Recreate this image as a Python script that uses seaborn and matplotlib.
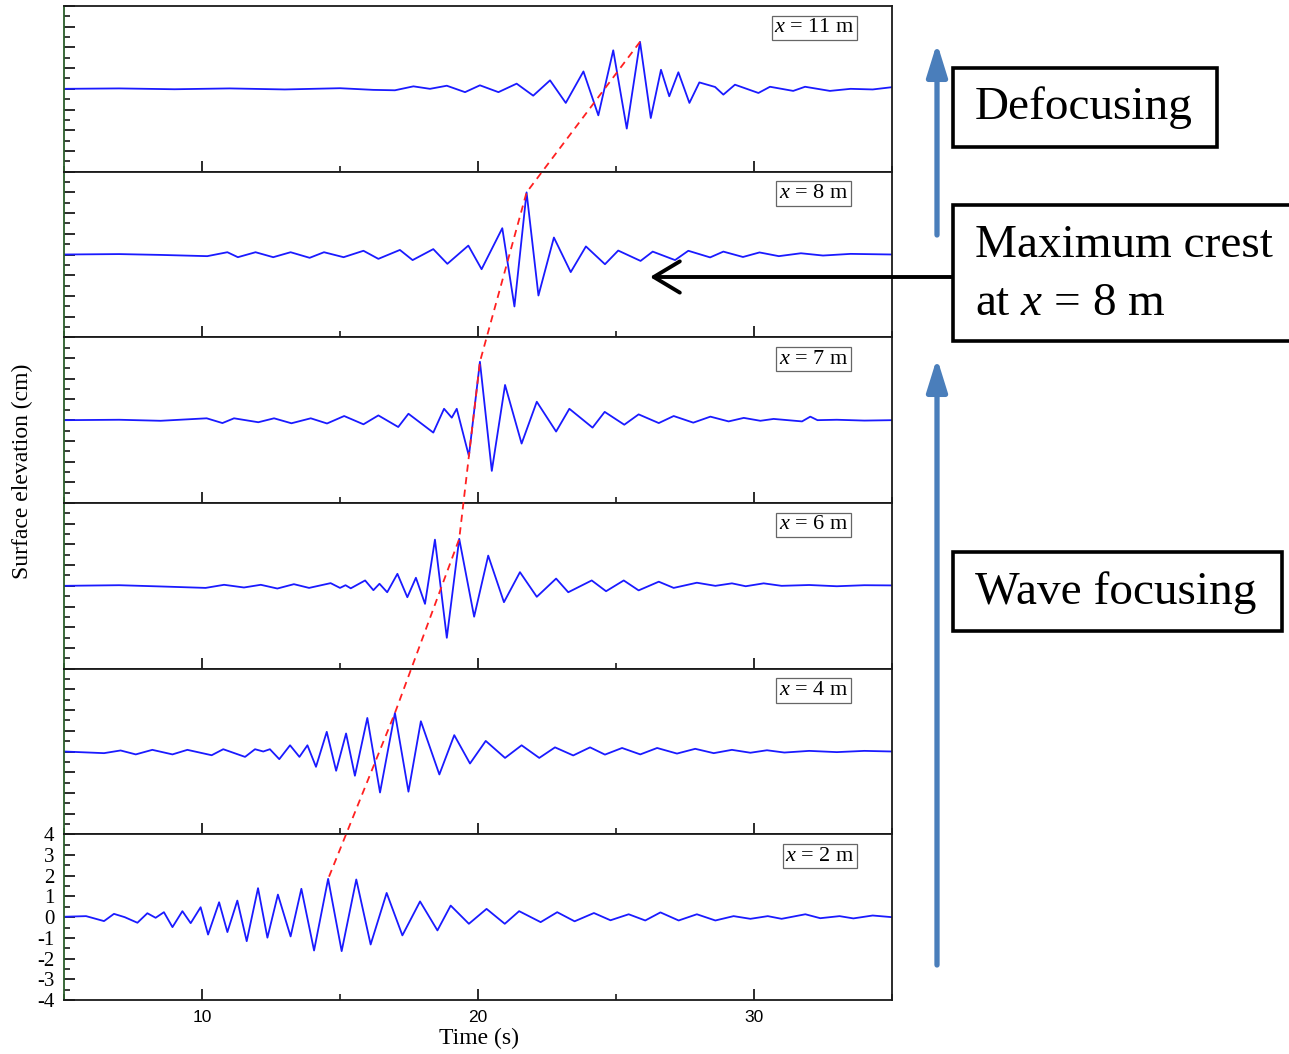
import numpy as np
import pandas as pd
import matplotlib
matplotlib.use("Agg")
import matplotlib.pyplot as plt
import seaborn as sns
from matplotlib.patches import Rectangle, FancyArrowPatch
from matplotlib.lines import Line2D
from matplotlib.ticker import MultipleLocator, FixedLocator

# ---------------- data ----------------
locations = ["x = 11 m", "x = 8 m", "x = 7 m", "x = 6 m", "x = 4 m", "x = 2 m"]

t_11 = [5.0, 7.0, 9.0, 11.0, 13.0, 15.0, 16.2, 16.99, 17.66, 18.26, 18.87, 19.53, 20.07, 20.74,
        21.40, 22.00, 22.61, 23.18, 23.82, 24.36, 24.90, 25.39, 25.87, 26.26, 26.63, 26.93, 27.26,
        27.66, 28.02, 28.59, 28.89, 29.31, 30.16, 30.58, 31.42, 31.85, 32.75, 33.5, 34.3, 35.0]
eta_11 = [0.0, 0.02, -0.02, 0.02, -0.03, 0.03, -0.05, -0.07, 0.12, 0.0, 0.15, -0.16, 0.17, -0.16,
          0.25, -0.33, 0.41, -0.68, 0.84, -1.28, 1.86, -1.92, 2.27, -1.41, 0.92, -0.36, 0.80,
          -0.68, 0.31, 0.09, -0.28, 0.20, -0.20, 0.10, -0.10, 0.10, -0.10, 0.0, -0.03, 0.08]

t_8 = [5.0, 7.0, 8.5, 10.19, 10.92, 11.30, 11.94, 12.58, 13.21, 13.90, 14.42, 15.13, 15.85, 16.39,
       17.17, 17.63, 18.38, 18.89, 19.65, 20.13, 20.88, 21.32, 21.76, 22.19, 22.75, 23.36, 23.91,
       24.60, 25.08, 25.89, 26.33, 27.14, 27.62, 28.41, 28.89, 29.6, 30.2, 30.9, 31.7, 32.5, 33.5, 35.0]
eta_8 = [0.0, 0.02, -0.02, -0.08, 0.11, -0.13, 0.11, -0.13, 0.11, -0.16, 0.11, -0.13, 0.18, -0.21,
         0.22, -0.27, 0.26, -0.45, 0.43, -0.71, 1.27, -2.51, 3.00, -1.98, 0.82, -0.85, 0.39,
         -0.47, 0.19, -0.31, 0.14, -0.27, 0.18, -0.14, 0.14, -0.12, 0.10, -0.08, 0.06, -0.05, 0.03, 0.0]

t_7 = [5.0, 7.0, 8.5, 10.17, 10.74, 11.16, 12.04, 12.61, 13.24, 13.94, 14.53, 15.15, 15.85, 16.39,
       17.11, 17.48, 18.38, 18.77, 19.05, 19.23, 19.67, 20.07, 20.50, 20.98, 21.58, 22.13, 22.83,
       23.31, 24.15, 24.59, 25.3, 25.82, 26.55, 27.09, 27.8, 28.42, 29.08, 29.63, 30.23, 30.71,
       31.74, 32.04, 32.3, 33.0, 34.0, 35.0]
eta_7 = [0.0, 0.02, -0.03, 0.09, -0.14, 0.09, -0.10, 0.09, -0.15, 0.09, -0.16, 0.20, -0.20, 0.23,
         -0.33, 0.31, -0.60, 0.55, 0.12, 0.55, -1.73, 2.82, -2.45, 1.70, -1.13, 0.89, -0.55,
         0.55, -0.36, 0.40, -0.22, 0.28, -0.14, 0.20, -0.12, 0.17, -0.06, 0.11, -0.03, 0.06,
         -0.06, 0.17, 0.0, 0.02, -0.02, 0.0]

t_6 = [5.0, 7.0, 8.5, 10.13, 10.80, 11.52, 12.13, 12.73, 13.33, 13.88, 14.66, 15.0, 15.2, 15.39,
       15.91, 16.21, 16.43, 16.71, 17.08, 17.44, 17.75, 18.08, 18.44, 18.87, 19.32, 19.86, 20.37,
       20.94, 21.52, 22.13, 22.83, 23.27, 24.12, 24.64, 25.28, 25.82, 26.55, 27.09, 27.93, 28.6,
       29.2, 29.7, 30.35, 31.0, 32.0, 33.0, 34.0, 35.0]
eta_6 = [0.0, 0.03, -0.03, -0.10, 0.05, -0.08, 0.05, -0.13, 0.08, -0.10, 0.13, -0.10, 0.03, -0.12,
         0.26, -0.21, 0.10, -0.31, 0.58, -0.55, 0.39, -0.87, 2.23, -2.51, 2.27, -1.49, 1.46,
         -0.79, 0.66, -0.53, 0.35, -0.31, 0.26, -0.26, 0.26, -0.22, 0.20, -0.10, 0.15, 0.0,
         0.12, -0.02, 0.12, 0.0, 0.04, -0.02, 0.03, 0.02]

t_4 = [5.0, 6.45, 7.05, 7.6, 8.2, 8.93, 9.47, 10.35, 10.77, 11.56, 11.92, 12.22, 12.46, 12.80,
       13.19, 13.53, 13.82, 14.13, 14.52, 14.86, 15.22, 15.54, 15.99, 16.45, 16.99, 17.48, 17.93,
       18.60, 19.14, 19.71, 20.28, 20.98, 21.58, 22.22, 22.79, 23.45, 24.06, 24.6, 25.22, 25.88,
       26.49, 27.21, 27.87, 28.54, 29.2, 29.87, 30.47, 31.1, 32.0, 33.0, 34.0, 35.0]
eta_4 = [0.0, -0.08, 0.05, -0.14, 0.08, -0.14, 0.08, -0.18, 0.11, -0.26, 0.11, 0.0, 0.11, -0.37,
         0.30, -0.26, 0.30, -0.74, 0.95, -0.93, 0.87, -1.17, 1.62, -1.98, 1.86, -1.94, 1.46,
         -1.11, 0.79, -0.58, 0.51, -0.31, 0.30, -0.31, 0.20, -0.19, 0.20, -0.15, 0.17, -0.14,
         0.17, -0.10, 0.13, -0.08, 0.08, -0.06, 0.06, -0.05, 0.03, -0.03, 0.03, 0.0]

t_2 = [5.0, 5.8, 6.45, 6.81, 7.2, 7.66, 8.02, 8.32, 8.62, 8.93, 9.29, 9.59, 9.95, 10.22, 10.62,
       10.92, 11.28, 11.62, 12.03, 12.37, 12.75, 13.21, 13.60, 14.06, 14.57, 15.06, 15.59, 16.11,
       16.69, 17.26, 17.90, 18.53, 19.01, 19.67, 20.31, 20.97, 21.49, 22.27, 22.87, 23.5, 24.2,
       24.8, 25.46, 26.06, 26.61, 27.27, 27.93, 28.6, 29.26, 29.87, 30.5, 31.0, 31.86, 32.4,
       33.1, 33.6, 34.3, 35.0]
eta_2 = [0.02, 0.05, -0.19, 0.16, 0.0, -0.27, 0.19, -0.03, 0.24, -0.48, 0.29, -0.29, 0.48, -0.84,
         0.72, -0.72, 0.80, -1.16, 1.40, -0.99, 1.09, -0.93, 1.37, -1.61, 1.85, -1.64, 1.82,
         -1.32, 1.17, -0.88, 0.76, -0.64, 0.56, -0.32, 0.40, -0.32, 0.29, -0.24, 0.24, -0.2,
         0.2, -0.15, 0.14, -0.16, 0.23, -0.16, 0.14, -0.16, 0.05, -0.08, 0.05, -0.08, 0.14,
         -0.05, 0.05, -0.06, 0.08, 0.0]

series = {
    "x = 11 m": (t_11, eta_11),
    "x = 8 m": (t_8, eta_8),
    "x = 7 m": (t_7, eta_7),
    "x = 6 m": (t_6, eta_6),
    "x = 4 m": (t_4, eta_4),
    "x = 2 m": (t_2, eta_2),
}
label_text = {
    "x = 11 m": r"$x$ = 11 m",
    "x = 8 m": r"$x$ = 8 m",
    "x = 7 m": r"$x$ = 7 m",
    "x = 6 m": r"$x$ = 6 m",
    "x = 4 m": r"$x$ = 4 m",
    "x = 2 m": r"$x$ = 2 m",
}
y_ticks = [-4, -3, -2, -1, 0, 1, 2, 3, 4]
x_ticks = [10, 20, 30]

frames = []
for loc in locations:
    tt, ee = series[loc]
    frames.append(pd.DataFrame({"t": tt, "eta": ee, "loc": loc}))
df = pd.concat(frames, ignore_index=True)

# ---------------- style ----------------
sns.set_theme(style="white")
plt.rcParams["font.family"] = ["Liberation Serif", "DejaVu Serif"]
plt.rcParams["mathtext.fontset"] = "custom"
plt.rcParams["mathtext.rm"] = "Liberation Serif"
plt.rcParams["mathtext.it"] = "Liberation Serif:italic"
for key in ["text.color", "axes.labelcolor", "xtick.color", "ytick.color"]:
    plt.rcParams[key] = "black"

W, H = 1289, 1054
fig = plt.figure(figsize=(W / 100, H / 100), dpi=100, facecolor="white")
axes = fig.subplots(6, 1, sharex=True, gridspec_kw=dict(hspace=0))
fig.subplots_adjust(left=64 / W, right=892 / W, bottom=1 - 1000 / H, top=1 - 6 / H)

label_right = [0.955, 0.947, 0.947, 0.947, 0.947, 0.955]

for i, (ax, loc) in enumerate(zip(axes, locations)):
    sub = df[df["loc"] == loc]
    sns.lineplot(data=sub, x="t", y="eta", ax=ax, color="#1a1aff", lw=1.3,
                 estimator=None, sort=True, solid_joinstyle="round")
    ax.set_xlim(5, 35)
    ax.set_ylim(-4, 4)
    ax.set_xlabel("")
    ax.set_ylabel("")
    ax.set_facecolor("white")
    ax.xaxis.set_major_locator(FixedLocator(x_ticks))
    ax.xaxis.set_minor_locator(MultipleLocator(5))
    ax.yaxis.set_major_locator(FixedLocator(y_ticks))
    ax.yaxis.set_minor_locator(MultipleLocator(0.5))
    ax.tick_params(axis="both", which="major", direction="in", length=8, width=1.3,
                   bottom=True, left=True, top=False, right=False, pad=7,
                   color="#1a1a1a")
    ax.tick_params(axis="both", which="minor", direction="in", length=4, width=1.2,
                   bottom=True, left=True, top=False, right=False, color="#1a1a1a")
    for s in ax.spines.values():
        s.set_color("#1a1a1a")
        s.set_linewidth(1.3)
    ax.spines["left"].set_color("#2b5e2b")
    if i < 5:
        ax.tick_params(axis="both", which="both", labelleft=False, labelbottom=False)
    else:
        ax.set_yticks(y_ticks)
        ax.set_yticklabels([str(v) for v in y_ticks], fontsize=15)
        ax.set_xticks(x_ticks)
        ax.set_xticklabels([str(v) for v in x_ticks], fontsize=12.5,
                           family=["Liberation Sans", "DejaVu Sans"])
    ax.text(label_right[i], 0.925, label_text[loc], transform=ax.transAxes, ha="right",
            va="top", fontsize=16, color="black",
            bbox=dict(boxstyle="square,pad=0.12", fc="white", ec="#666666", lw=0.9))

fig.text(22 / W, 1 - 471 / H, "Surface elevation (cm)", rotation=90, ha="center",
         va="center", fontsize=17)
fig.text(479 / W, 1 - 1038 / H, "Time (s)", ha="center", va="center", fontsize=17)

# ---------------- red dashed line through maximum crests ----------------
fig.canvas.draw()
inv = fig.transFigure.inverted()
pts = []
for ax, loc in zip(axes, locations):
    tt, ee = series[loc]
    k = int(np.argmax(ee))
    pts.append(inv.transform(ax.transData.transform((tt[k], ee[k]))))
pts = np.array(pts)
fig.add_artist(Line2D(pts[:, 0], pts[:, 1], transform=fig.transFigure, color="#ff2020",
                      lw=1.3, ls=(0, (4, 3)), zorder=10))

# ---------------- right-hand annotations ----------------
def fx(px):
    return px / W


def fy(py):
    return 1 - py / H


blue = "#4a7ebb"
for y0, y1 in [(965, 358), (235, 43)]:
    fig.add_artist(FancyArrowPatch((fx(937), fy(y0)), (fx(937), fy(y1)),
                                   transform=fig.transFigure,
                                   arrowstyle="-|>,head_length=0.9,head_width=0.28",
                                   mutation_scale=22, lw=3.8, color=blue,
                                   shrinkA=0, shrinkB=0))

fig.add_artist(FancyArrowPatch((fx(953), fy(277)), (fx(650), fy(277)),
                               transform=fig.transFigure,
                               arrowstyle="->,head_length=0.75,head_width=0.45",
                               mutation_scale=25, lw=2.8, color="black",
                               shrinkA=0, shrinkB=0))

boxes = [(953, 68, 1217, 147), (953, 205, 1295, 341), (953, 552, 1282, 631)]
for x0, y0, x1, y1 in boxes:
    fig.add_artist(Rectangle((fx(x0), fy(y1)), (x1 - x0) / W, (y1 - y0) / H,
                             transform=fig.transFigure, fc="white", ec="black", lw=2.6,
                             clip_on=False))

fig.text(fx(975), fy(108), "Defocusing", ha="left", va="center", fontsize=34)
fig.text(fx(975), fy(246), "Maximum crest", ha="left", va="center", fontsize=34)
fig.text(fx(975), fy(304), r"at $x$ = 8 m", ha="left", va="center", fontsize=34)
fig.text(fx(975), fy(593), "Wave focusing", ha="left", va="center", fontsize=34)

fig.savefig("out.png", dpi=100, facecolor="white")
